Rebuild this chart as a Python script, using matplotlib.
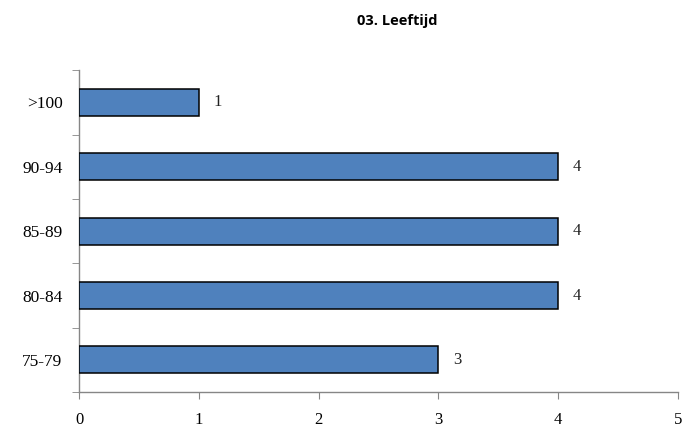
import matplotlib
matplotlib.use("Agg")
import matplotlib.pyplot as plt
from matplotlib.ticker import FixedLocator, NullFormatter

categories = ["75-79", "80-84", "85-89", "90-94", ">100"]
counts = [3, 4, 4, 4, 1]
title = "03. Leeftijd"

fig = plt.figure(figsize=(6.82, 4.30), dpi=100)
ax = fig.add_axes([0.116, 0.088, 0.878, 0.749])

pos = list(range(len(categories)))
ax.barh(pos, counts, height=0.42, color="#4F81BD", edgecolor="black", linewidth=1.1, zorder=3)

for y, v in zip(pos, counts):
    ax.text(v + 0.12, y, str(v), va="center", ha="left",
            fontsize=12, family="Liberation Serif", color="#222222")

ax.set_xlim(0, 5)
ax.set_ylim(-0.5, len(categories) - 0.5)
ax.set_xticks(range(6))
ax.set_xticklabels([str(i) for i in range(6)], family="Liberation Serif", fontsize=12)
ax.set_yticks(pos)
ax.set_yticklabels(categories, family="Liberation Serif", fontsize=12.5)
ax.tick_params(axis="y", which="major", length=0, pad=12)
ax.tick_params(axis="x", which="major", length=5, color="#868686", pad=9)
ax.yaxis.set_minor_locator(FixedLocator([p + 0.5 for p in [-1] + pos]))
ax.yaxis.set_minor_formatter(NullFormatter())
ax.tick_params(axis="y", which="minor", length=5, color="#868686")

for side in ["top", "right"]:
    ax.spines[side].set_visible(False)
for side in ["left", "bottom"]:
    ax.spines[side].set_color("#868686")
    ax.spines[side].set_linewidth(1.0)

fig.text(0.583, 0.952, title, ha="center", va="center", fontsize=10.5,
         fontweight="bold", family="Open Sans")

fig.savefig("out.png", dpi=100)
